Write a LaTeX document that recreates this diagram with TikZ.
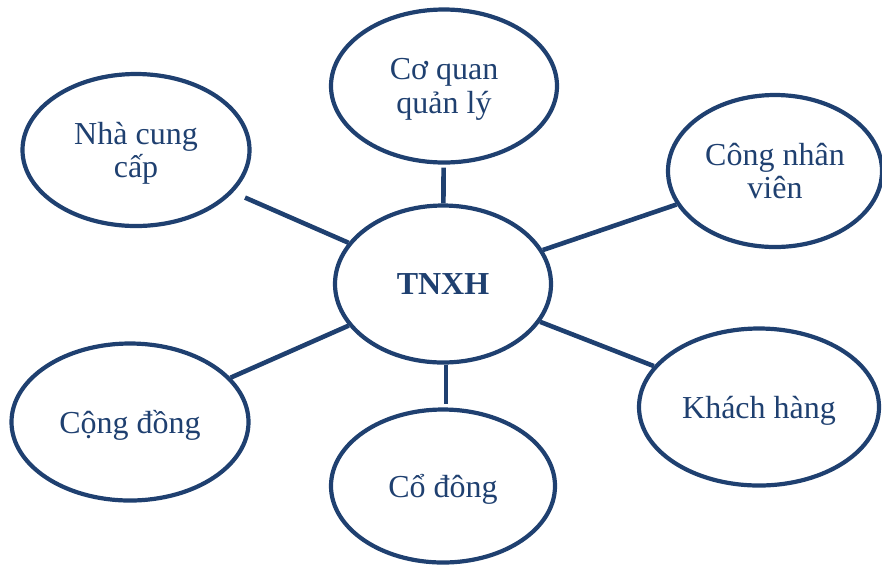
\documentclass[tikz,border=0pt]{standalone}
\usepackage{fontspec}
\setmainfont{Liberation Serif}
\usetikzlibrary{shapes.geometric}

\definecolor{navy}{RGB}{31,64,112}

\begin{document}
\begin{tikzpicture}
    [x=0.5pt, y=-0.5pt,
    % Styles
    party/.style={ellipse, draw=navy, line width=2.1pt, text=navy, align=center,
      inner sep=0pt, text depth=0pt, font=\fontsize{16}{16.8}\selectfont},
    link/.style={draw=navy, line width=2.3pt}]

    \useasboundingbox (0,0) rectangle (882,564);

    % Centre
    \node[party, minimum width=108pt, minimum height=78.5pt,
      font=\fontsize{16}{16.8}\selectfont\bfseries] (tnxh) at (443,284) {TNXH};

    % Stakeholders
    \node[party, minimum width=113pt, minimum height=76.5pt] (coquan) at (444,86) {Cơ quan\\quản lý};
    \node[party, minimum width=113.5pt, minimum height=76pt] (nhacc) at (136,150) {Nhà cung\\cấp};
    \node[party, minimum width=107pt, minimum height=76pt] (congnhan) at (775,171) {Công nhân\\viên};
    \node[party, minimum width=120pt, minimum height=78.5pt] (khach) at (759,407) {Khách hàng};
    \node[party, minimum width=118.5pt, minimum height=78.5pt] (congdong) at (130,422) {Cộng đồng};
    \node[party, minimum width=112pt, minimum height=76.5pt] (codong) at (443,486) {Cổ đông};

    % Spokes
    \draw[link, shorten >=1.5pt] (tnxh) -- (coquan);
    \draw[link, shorten >=6.5pt] (tnxh) -- (nhacc);
    \draw[link] (tnxh) -- (congnhan);
    \draw[link] (tnxh) -- (khach);
    \draw[link] (tnxh) -- (congdong);
    \draw[link, shorten >=1.5pt] (tnxh.south) ++(1.5pt,0) coordinate (tnxhs) -- (codong.north -| tnxhs);
\end{tikzpicture}
\end{document}
